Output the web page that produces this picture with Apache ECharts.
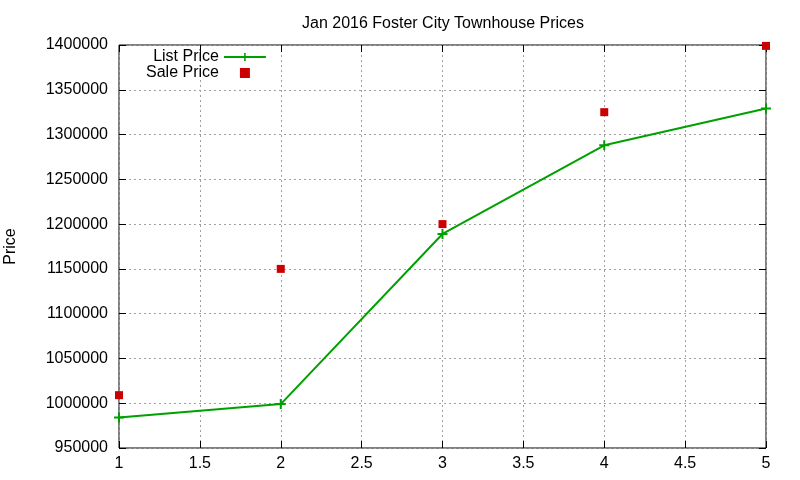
<!DOCTYPE html>
<html style="height: 100%">
<head>
    <meta charset="utf-8">
</head>
<body style="height: 100%; margin: 0; background: #fff">
    <div id="container" style="width: 800px; height: 480px"></div>
    <script type="text/javascript" src="https://cdn.jsdelivr.net/npm/echarts@6/dist/echarts.min.js"></script>
    <script type="text/javascript">
        var months = [1, 2, 3, 4, 5];
        var listPrice = [984000, 999000, 1189000, 1288000, 1329000];
        var salePrice = [1009000, 1150000, 1200000, 1325000, 1399000];

        var font = 'Liberation Sans, Arial, sans-serif';
        var plusIcon = 'path://M4,0H6V4H10V6H6V10H4V6H0V4H4Z';
        var squareIcon = 'path://M0,0H10V10H0Z';

        var myChart = echarts.init(document.getElementById('container'));

        function pairs(ys) {
            return months.map(function (m, i) { return [m, ys[i]]; });
        }

        var tickStyle = { show: true, inside: true, length: 7, lineStyle: { color: '#000' } };
        var gridStyle = { show: true, lineStyle: { color: '#a0a0a0', type: [2, 3], width: 1 } };

        var option = {
            animation: false,
            backgroundColor: '#fff',
            title: {
                text: 'Jan 2016 Foster City Townhouse Prices',
                left: 438,
                textAlign: 'center',
                top: 11,
                textStyle: { fontFamily: font, fontSize: 16, fontWeight: 'normal', color: '#000' }
            },
            legend: {
                orient: 'vertical',
                left: 146,
                top: 49,
                align: 'right',
                itemWidth: 42,
                itemHeight: 10,
                itemGap: 0,
                padding: 0,
                textStyle: { fontFamily: font, fontSize: 16, lineHeight: 16, color: '#000' },
                data: ['List Price', 'Sale Price']
            },
            grid: {
                left: 119, right: 34, top: 45, bottom: 32,
                outerBoundsMode: 'none',
                containLabel: false,
                show: true, borderColor: '#000', borderWidth: 1
            },
            xAxis: [{
                type: 'value', min: 1, max: 5, interval: 0.5,
                axisLine: { show: false },
                axisTick: tickStyle,
                splitLine: gridStyle,
                axisLabel: { fontFamily: font, fontSize: 16, color: '#000', margin: 8 }
            }, {
                type: 'value', position: 'top', min: 1, max: 5, interval: 0.5,
                axisLine: { show: false }, axisTick: tickStyle,
                splitLine: { show: false }, axisLabel: { show: false }
            }],
            yAxis: [{
                type: 'value', min: 950000, max: 1400000, interval: 50000,
                name: 'Price', nameLocation: 'middle', nameGap: 100, nameRotate: 90,
                nameTextStyle: { fontFamily: font, fontSize: 16, color: '#000' },
                axisLine: { show: false },
                axisTick: tickStyle,
                splitLine: gridStyle,
                axisLabel: {
                    fontFamily: font, fontSize: 16, color: '#000', margin: 11,
                    formatter: function (v) { return String(v); }
                }
            }, {
                type: 'value', position: 'right', min: 950000, max: 1400000, interval: 50000,
                axisLine: { show: false }, axisTick: tickStyle,
                splitLine: { show: false }, axisLabel: { show: false }
            }],
            series: [{
                name: 'List Price',
                type: 'line',
                data: pairs(listPrice),
                symbol: plusIcon,
                symbolSize: 10,
                showAllSymbol: true,
                itemStyle: { color: '#00a000' },
                lineStyle: { color: '#00a000', width: 2 }
            }, {
                name: 'Sale Price',
                type: 'scatter',
                data: pairs(salePrice),
                symbol: squareIcon,
                symbolKeepAspect: true,
                symbolSize: 8,
                itemStyle: { color: '#cc0000', opacity: 1 }
            }]
        };

        myChart.setOption(option);
    </script>
</body>
</html>
